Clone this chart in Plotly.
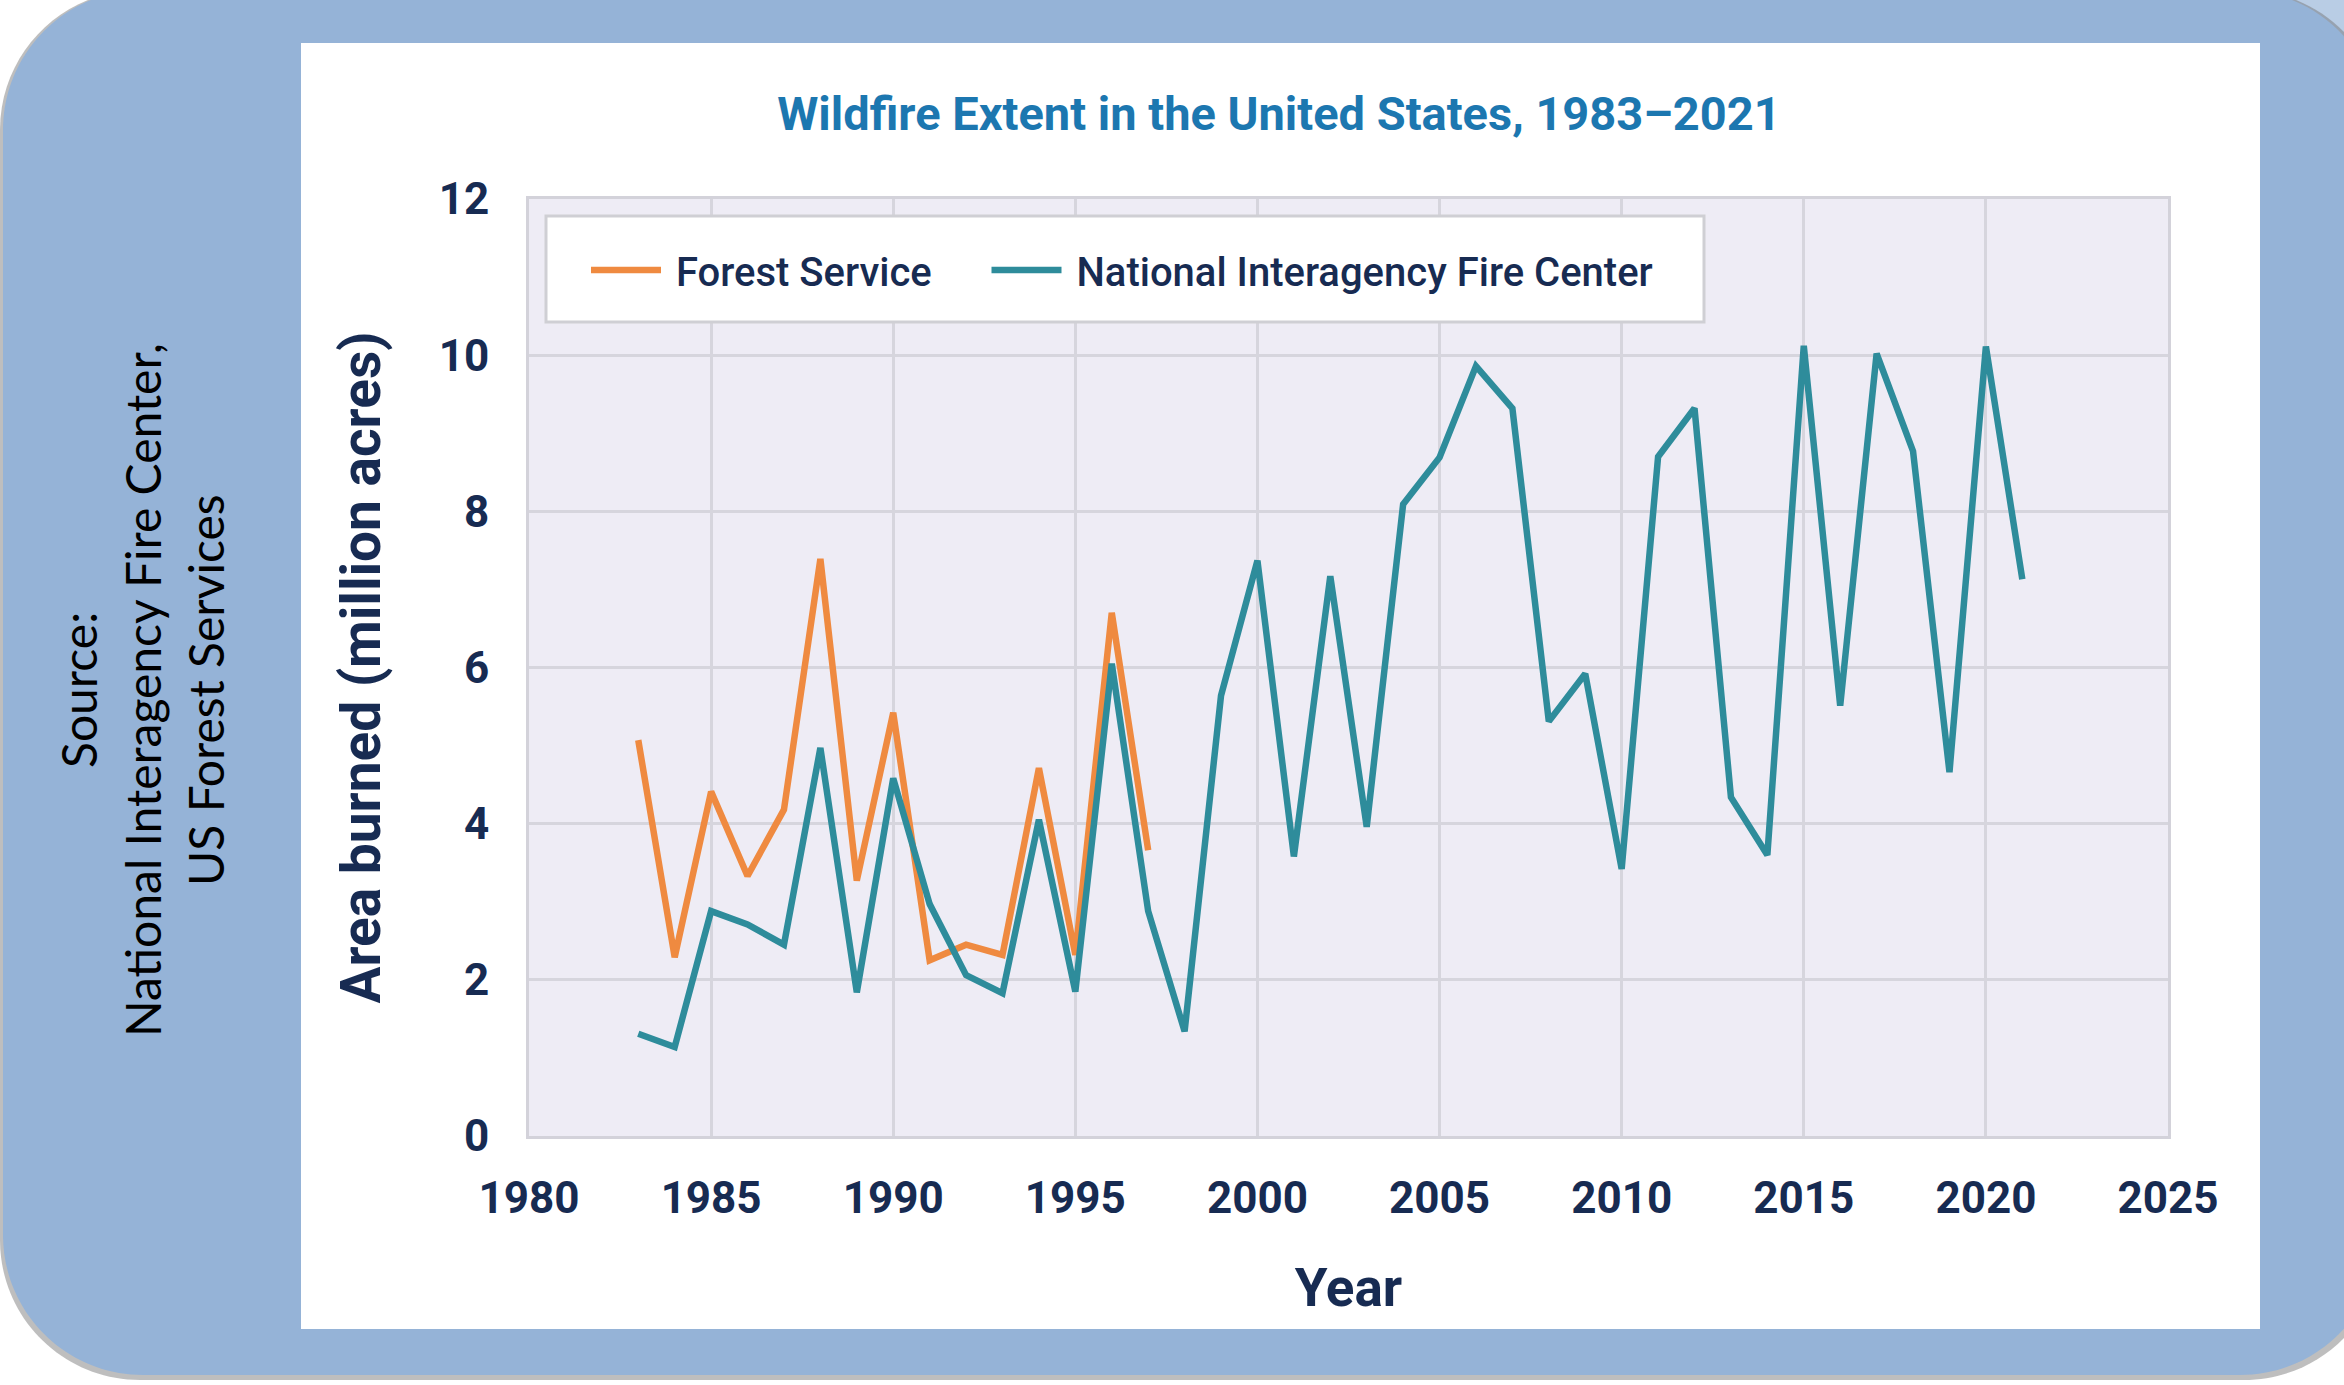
import plotly.graph_objects as go

# ---------------- data ----------------
years_fs = list(range(1983, 1998))
forest_service = [5.07, 2.29, 4.41, 3.33, 4.18, 7.39, 3.27, 5.42, 2.25, 2.45,
                  2.32, 4.71, 2.32, 6.70, 3.66]

years_nifc = list(range(1983, 2022))
nifc = [1.31, 1.14, 2.88, 2.71, 2.45, 4.97, 1.84, 4.58, 2.97, 2.06,
        1.83, 4.05, 1.85, 6.05, 2.88, 1.34, 5.64, 7.37, 3.58, 7.17,
        3.96, 8.09, 8.69, 9.86, 9.32, 5.31, 5.92, 3.42, 8.70, 9.32,
        4.34, 3.60, 10.12, 5.51, 10.02, 8.77, 4.66, 10.11, 7.13]

x_ticks = [1980, 1985, 1990, 1995, 2000, 2005, 2010, 2015, 2020, 2025]
y_ticks = [0, 2, 4, 6, 8, 10, 12]

# ---------------- geometry ----------------
W, H = 2344, 1385
PL, PR, PT, PB = 529, 2168, 199, 1136


def px(x):
    return (x - PL) / (PR - PL)


def py(y):
    return (PB - y) / (PB - PT)


def rounded_path(l, t, r, b, rad):
    k = 0.5523 * rad
    pts = [
        ("M", [(l + rad, t)]),
        ("L", [(r - rad, t)]),
        ("C", [(r - rad + k, t), (r, t + rad - k), (r, t + rad)]),
        ("L", [(r, b - rad)]),
        ("C", [(r, b - rad + k), (r - rad + k, b), (r - rad, b)]),
        ("L", [(l + rad, b)]),
        ("C", [(l + rad - k, b), (l, b - rad + k), (l, b - rad)]),
        ("L", [(l, t + rad)]),
        ("C", [(l, t + rad - k), (l + rad - k, t), (l + rad, t)]),
    ]
    s = ""
    for cmd, ps in pts:
        s += cmd + " ".join(f"{px(a):.5f},{py(c):.5f}" for a, c in ps) + " "
    return s + "Z"


NAVY = "#172B52"
ORANGE = "#EF8A40"
TEAL = "#2E8C9B"
NB = "\u00a0"

fig = go.Figure()
fig.add_trace(go.Scatter(x=years_fs, y=forest_service, mode="lines",
                         name=NB + "Forest Service" + NB * 5,
                         line=dict(color=ORANGE, width=6.5)))
fig.add_trace(go.Scatter(x=years_nifc, y=nifc, mode="lines",
                         name=NB + "National Interagency Fire Center",
                         line=dict(color=TEAL, width=6.5)))

shapes = [
    # light corner area top-right
    dict(type="rect", xref="paper", yref="paper", x0=px(2180), x1=px(2344),
         y0=py(140), y1=py(0), fillcolor="#B9CDE5", line=dict(width=0),
         layer="below"),
    # shadow
    dict(type="path", xref="paper", yref="paper",
         path=rounded_path(0, -10, 2384, 1380, 140),
         fillcolor="rgba(110,110,110,0.45)", line=dict(width=0), layer="below"),
    # blue rounded frame
    dict(type="path", xref="paper", yref="paper",
         path=rounded_path(3, -10, 2380, 1375, 140),
         fillcolor="#95B3D7", line=dict(width=0), layer="below"),
    # white panel
    dict(type="rect", xref="paper", yref="paper", x0=px(301), x1=px(2260),
         y0=py(1329), y1=py(43), fillcolor="white", line=dict(width=0),
         layer="below"),
    # plot background
    dict(type="rect", xref="paper", yref="paper", x0=0, x1=1, y0=0, y1=1,
         fillcolor="#EEECF5", line=dict(width=0), layer="below"),
    # legend box
    dict(type="rect", xref="paper", yref="paper", x0=px(546), x1=px(1704),
         y0=py(322), y1=py(216), fillcolor="white",
         line=dict(width=3, color="#CFCFD4"), layer="above"),
]

source_lines = ["Source:", "National Interagency Fire Center,", "US Forest Services"]
source_x = [78, 142, 205]
annotations = []
for txt, sx in zip(source_lines, source_x):
    annotations.append(dict(text=txt, xref="paper", yref="paper",
                            x=px(sx), y=py(690), showarrow=False,
                            textangle=-90, xanchor="center", yanchor="middle",
                            font=dict(family="Lato", size=48, color="black")))

fig.update_layout(
    width=W, height=H, autosize=False,
    margin=dict(l=PL, r=W - PR, t=PT, b=H - PB, pad=0),
    paper_bgcolor="white",
    plot_bgcolor="rgba(0,0,0,0)",
    title=dict(text="Wildfire Extent in the United States, 1983–2021",
               x=px(1279), xref="paper", xanchor="center",
               y=1 - 114 / H, yref="container", yanchor="middle",
               font=dict(family="Roboto", size=47, color="#1C77B0",
                         weight="bold")),
    shapes=shapes,
    annotations=annotations,
    showlegend=True,
    legend=dict(orientation="h", x=px(586), y=py(270), xanchor="left",
                yanchor="middle", bgcolor="rgba(0,0,0,0)",
                borderwidth=0, itemwidth=70,
                font=dict(family="Roboto", size=40, color=NAVY, weight=500)),
    xaxis=dict(range=[1980, 2025], tickvals=x_ticks,
               ticktext=[str(v) for v in x_ticks],
               showgrid=True, gridcolor="#D6D5DD", gridwidth=3,
               zeroline=False, showline=True, linecolor="#D3D2DA",
               linewidth=3, mirror=True, ticks="", ticklabelstandoff=21,
               tickfont=dict(family="Roboto", size=44, color=NAVY,
                             weight="bold"),
               title=dict(text="Year", standoff=47,
                          font=dict(family="Roboto", size=53, color=NAVY,
                                    weight="bold"))),
    yaxis=dict(range=[0, 12], tickvals=y_ticks,
               ticktext=[str(v) for v in y_ticks],
               showgrid=True, gridcolor="#D6D5DD", gridwidth=3,
               zeroline=False, showline=True, linecolor="#D3D2DA",
               linewidth=3, mirror=True, ticks="", ticklabelstandoff=28,
               tickfont=dict(family="Roboto", size=44, color=NAVY,
                             weight="bold"),
               title=dict(text="Area burned (million acres)", standoff=41,
                          font=dict(family="Roboto", size=55, color=NAVY,
                                    weight="bold"))),
)

fig.write_html("out.html")
